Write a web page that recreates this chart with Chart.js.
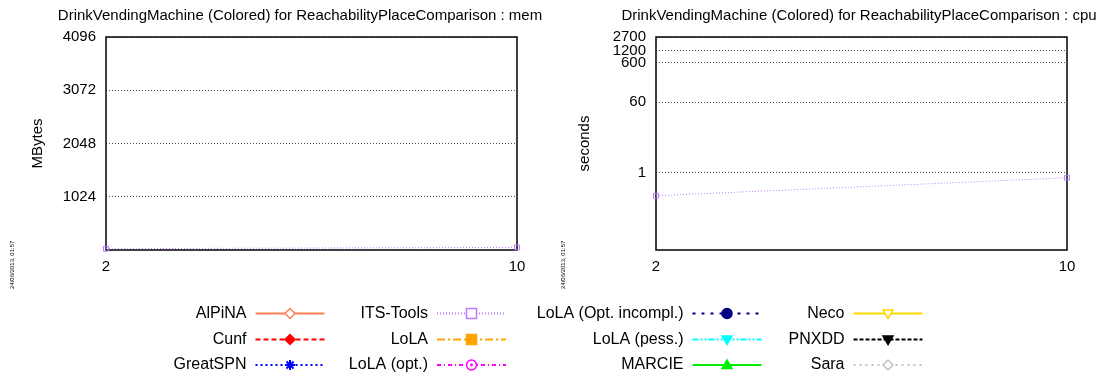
<!DOCTYPE html>
<html>
<head>
<meta charset="utf-8">
<script src="https://cdn.jsdelivr.net/npm/chart.js@4.4.0/dist/chart.umd.min.js"></script>
<style>
html, body { margin: 0; padding: 0; background: #fff; width: 1102px; height: 376px; overflow: hidden; }
canvas { position: absolute; }
#mem { left: 0; top: 0; }
#cpu { left: 551px; top: 0; }
#legend { left: 0; top: 290px; }
</style>
</head>
<body>
<canvas id="mem" width="600" height="300"></canvas>
<canvas id="cpu" width="616" height="300"></canvas>
<canvas id="legend" width="1102" height="86"></canvas>
<script>
// data
var sizes = [2, 10];
var tools = ['AlPiNA', 'Cunf', 'GreatSPN', 'ITS-Tools', 'LoLA', 'LoLA (opt.)',
             'LoLA (Opt. incompl.)', 'LoLA (pess.)', 'MARCIE', 'Neco', 'PNXDD', 'Sara'];
var itsToolsMem = [25, 50];
var itsToolsCpu = [0.26, 0.74];
var memTicks = [1024, 2048, 3072, 4096];
var cpuTicks = [1, 60, 600, 1200, 2700];
var stamp = '24/06/2013, 01:57';

// styles
var colors = ['#ff7f50', '#ff0000', '#0000ff', '#b77cff', '#ffa500', '#ff00ff',
              '#000080', '#00ffff', '#00ee00', '#ffd700', '#000000', '#c0c0c0'];
var dashes = [[], [5, 3], [2, 3], [1, 2], [8, 3, 2, 3], [4, 3, 1, 3],
              [3, 6], [6, 2, 2, 2, 2, 2], [], [], [4, 2], [2, 4]];
var markers = ['diamond', 'diamond', 'star', 'square', 'square', 'circle',
               'circle', 'triangleDown', 'triangle', 'triangleDown', 'triangleDown', 'diamond'];
var filled = [false, true, true, false, true, false, true, true, true, false, true, false];

var FONT = '"Liberation Sans", Arial, Helvetica, sans-serif';
Chart.defaults.font.family = FONT;
Chart.defaults.color = '#000';

var chartStyle = { diamond: 'rectRot', square: 'rect', circle: 'circle', triangle: 'triangle',
                   triangleDown: 'triangle', star: 'star' };

function makeDatasets(itsValues) {
  return tools.map(function (name, i) {
    var pts = [];
    if (name === 'ITS-Tools') {
      pts = sizes.map(function (s, k) { return { x: s, y: itsValues[k] }; });
    }
    return {
      label: name,
      data: pts,
      borderColor: colors[i],
      borderWidth: 1,
      borderDash: dashes[i],
      pointStyle: chartStyle[markers[i]],
      rotation: markers[i] === 'triangleDown' ? 180 : 0,
      pointRadius: 3.5,
      pointBorderColor: colors[i],
      pointBackgroundColor: filled[i] ? colors[i] : 'rgba(255,255,255,0)',
      pointBorderWidth: 1,
      tension: 0,
      clip: false
    };
  });
}

var framePlugin = {
  id: 'frame',
  beforeDatasetsDraw: function (chart) {
    var a = chart.chartArea, ctx = chart.ctx;
    ctx.save();
    ctx.strokeStyle = '#000';
    ctx.lineWidth = 1.5;
    ctx.strokeRect(Math.round(a.left), Math.round(a.top),
                   Math.round(a.right - a.left), Math.round(a.bottom - a.top));
    ctx.restore();
  },
  afterDraw: function (chart, args, opts) {
    var ctx = chart.ctx;
    ctx.save();
    ctx.translate(opts.stampX, 289);
    ctx.rotate(-Math.PI / 2);
    ctx.font = '6px ' + FONT;
    ctx.fillStyle = '#000';
    ctx.textBaseline = 'middle';
    ctx.fillText(stamp, 0, 0);
    ctx.restore();
  }
};

function makeChart(id, title, yTitle, itsValues, yType, yMin, yMax, yTicks, yWidth, yTitlePad, rightPad, stampX) {
  return new Chart(document.getElementById(id), {
    type: 'line',
    data: { datasets: makeDatasets(itsValues) },
    options: {
      responsive: false,
      animation: false,
      devicePixelRatio: 1,
      layout: { padding: { left: 0, right: 0, top: 4, bottom: 0 } },
      plugins: {
        legend: { display: false },
        tooltip: { enabled: false },
        title: { display: true, text: title, color: '#000',
                 font: { size: 15, weight: 'normal' }, padding: { top: 3, bottom: 12 } },
        frame: { stampX: stampX }
      },
      scales: {
        x: {
          type: 'linear', min: sizes[0], max: sizes[sizes.length - 1],
          afterBuildTicks: function (s) { s.ticks = sizes.map(function (v) { return { value: v }; }); },
          afterFit: function (s) { s.height = 50; },
          grid: { display: false, drawTicks: false },
          border: { display: false },
          ticks: { padding: 8, font: { size: 15 }, color: '#000', maxRotation: 0,
                   callback: function (v) { return String(v); } }
        },
        y: {
          type: yType, min: yMin, max: yMax,
          afterBuildTicks: function (s) { s.ticks = yTicks.map(function (v) { return { value: v }; }); },
          afterFit: function (s) { s.width = yWidth; },
          grid: { color: 'rgba(0,0,0,0.7)', lineWidth: 1, drawTicks: false },
          border: { display: false, dash: [1, 2] },
          ticks: { padding: 10, font: { size: 15 }, color: '#000',
                   callback: function (v) { return String(v); } },
          title: { display: true, text: yTitle, color: '#000', font: { size: 15 },
                   padding: { top: yTitlePad, bottom: 0 } }
        },
        // empty right axis only reserves the margin right of the plot
        yRight: {
          type: 'linear', position: 'right', min: 0, max: 1,
          afterFit: function (s) { s.width = rightPad; },
          grid: { display: false, drawTicks: false },
          border: { display: false },
          ticks: { display: false }
        }
      }
    },
    plugins: [framePlugin]
  });
}

makeChart('mem', 'DrinkVendingMachine (Colored) for ReachabilityPlaceComparison : mem', 'MBytes',
          itsToolsMem, 'linear', 0, 4096, memTicks, 106, 29, 83, 12);
makeChart('cpu', 'DrinkVendingMachine (Colored) for ReachabilityPlaceComparison : cpu', 'seconds',
          itsToolsCpu, 'logarithmic', 0.011, 2700, cpuTicks, 105, 25, 100, 12);

// legend in gnuplot layout: text right-aligned, sample line to its right
function drawMarker(ctx, kind, isFilled, color, x, y) {
  var r = 5;
  ctx.save();
  ctx.setLineDash([]);
  ctx.strokeStyle = color;
  ctx.fillStyle = isFilled ? color : '#fff';
  ctx.lineWidth = 1.5;
  ctx.beginPath();
  if (kind === 'diamond') {
    ctx.moveTo(x, y - r); ctx.lineTo(x + r, y); ctx.lineTo(x, y + r); ctx.lineTo(x - r, y); ctx.closePath();
  } else if (kind === 'square') {
    ctx.rect(x - r, y - r, 2 * r, 2 * r);
  } else if (kind === 'circle') {
    ctx.arc(x, y, r, 0, Math.PI * 2);
  } else if (kind === 'triangle') {
    ctx.moveTo(x, y - r); ctx.lineTo(x + r, y + r * 0.7); ctx.lineTo(x - r, y + r * 0.7); ctx.closePath();
  } else if (kind === 'triangleDown') {
    ctx.moveTo(x, y + r); ctx.lineTo(x + r, y - r * 0.7); ctx.lineTo(x - r, y - r * 0.7); ctx.closePath();
  }
  if (kind === 'star') {
    ctx.lineWidth = 2;
    for (var a = 0; a < 4; a++) {
      var ang = a * Math.PI / 4;
      ctx.moveTo(x - r * Math.cos(ang), y - r * Math.sin(ang));
      ctx.lineTo(x + r * Math.cos(ang), y + r * Math.sin(ang));
    }
    ctx.stroke();
  } else {
    ctx.fill();
    ctx.stroke();
  }
  if (kind === 'circle' && !isFilled) {
    ctx.beginPath();
    ctx.fillStyle = color;
    ctx.arc(x, y, 1.4, 0, Math.PI * 2);
    ctx.fill();
  }
  ctx.restore();
}

var lg = document.getElementById('legend').getContext('2d');
var colTextRight = [246.5, 428, 683.5, 844.5];
var rowY = [23.5, 49.5, 75];
lg.font = '16px ' + FONT;
lg.textAlign = 'right';
lg.textBaseline = 'middle';
tools.forEach(function (name, i) {
  var col = Math.floor(i / 3), row = i % 3;
  var tx = colTextRight[col], ty = rowY[row];
  lg.fillStyle = '#000';
  lg.fillText(name, tx, ty);
  var x0 = tx + 9, x1 = tx + 78;
  lg.save();
  lg.strokeStyle = colors[i];
  lg.lineWidth = 2;
  lg.setLineDash(dashes[i]);
  lg.beginPath();
  lg.moveTo(x0, ty);
  lg.lineTo(x1, ty);
  lg.stroke();
  lg.restore();
  drawMarker(lg, markers[i], filled[i], colors[i], (x0 + x1) / 2, ty);
});
</script>
</body>
</html>
